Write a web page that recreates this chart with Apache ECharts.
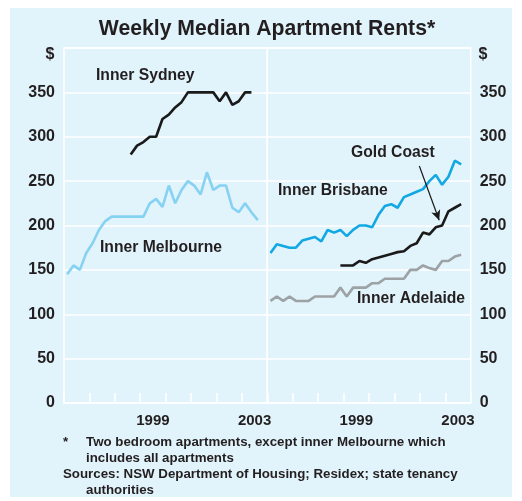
<!DOCTYPE html>
<html><head><meta charset="utf-8">
<script src="https://cdn.jsdelivr.net/npm/echarts@6/dist/echarts.min.js"></script>
<style>html,body{margin:0;padding:0;background:#fff}#c{width:522px;height:501px}</style>
</head><body><div id="c"></div>
<script>
// Quarterly series (value at quarter mid-point)
const yearLabels = [1999, 2003];
const sydneyStart = '1998Q3';
const sydney = [280,290, 294,300,300,320, 325,333,339,350, 350,350,350,350, 340,350,336,340, 350,350];
const melbourneStart = '1996Q1';
const melbourne = [145,155,150,169, 180,195,205,210, 210,210,210,210, 210,225,230,221, 245,225,240,250, 245,235,260,240, 245,245,220,215, 225,215,206];
const brisbaneStart = '1996Q1';
const brisbane = [169,179,177,175, 175,183,185,187, 182,195,192,195, 188,195,200,200, 198,212,222,224, 220,232,235,238, 241,250,257,246, 255,273,269];
const goldCoastStart = '1998Q4';
const goldCoast = [155, 155,155,160,158, 162,164,166,168, 170,171,177,180, 192,190,198,200, 216,220,224];
const adelaideStart = '1996Q1';
const adelaide = [115,120,115,120, 115,115,115,120, 120,120,120,130, 120,130,130,130, 135,135,140,140, 140,140,150,150, 155,152,150,160, 160,165,167];
const arrowFrom = [2001.98, 267];
const arrowTo = [2002.76, 206];

function toPairs(start, vals) {
  const y0 = +start.slice(0, 4), q0 = +start.slice(5) - 1;
  return vals.map((v, i) => {
    const k = q0 + i;
    return [y0 + Math.floor(k / 4) + ((k % 4) + 0.5) / 4, v];
  });
}

const FONT = '"Liberation Sans", Arial, Helvetica, sans-serif';
const TXT = '#231f20';
const BG = '#e1f3fb';

function xAxesFor(g) {
  return [
    { gridIndex: g, type: 'value', position: 'bottom', min: 1996, max: 2004, interval: 1,
      axisLine: { show: false },
      axisTick: { show: true, inside: true, length: 10, lineStyle: { color: '#fff', width: 1.5 } },
      axisLabel: { show: false }, splitLine: { show: false } },
    { gridIndex: g, type: 'value', position: 'bottom', offset: 0, min: 1996, max: 2004, interval: 0.5,
      axisLine: { show: false }, axisTick: { show: false }, splitLine: { show: false },
      axisLabel: { margin: 10, fontSize: 15, fontWeight: 'bold', fontFamily: FONT, color: TXT,
        formatter: v => yearLabels.some(y => Math.abs(v - (y + 0.5)) < 1e-6) ? String(Math.floor(v)) : '' } }
  ];
}
function yAxisFor(g, pos) {
  return { gridIndex: g, type: 'value', min: 0, max: 400, interval: 50, position: pos,
    axisLine: { show: false }, axisTick: { show: false },
    axisLabel: { margin: 9, fontSize: 16, fontWeight: 'bold', fontFamily: FONT, color: TXT,
      formatter: v => v === 400 ? '' : String(v) },
    splitLine: { show: true, lineStyle: { color: '#fff', width: 1.5 } } };
}
function line(name, xi, yi, data, color) {
  return { name, type: 'line', xAxisIndex: xi, yAxisIndex: yi, data, showSymbol: false,
    lineStyle: { color, width: 2.6 }, itemStyle: { color }, z: 3 };
}
function txt(text, x, y, size, align) {
  return { type: 'text', x, y, z: 10, style: { text, fill: TXT, font: 'bold ' + size + 'px ' + FONT,
    textAlign: align || 'left', textVerticalAlign: 'middle' } };
}

const chart = echarts.init(document.getElementById('c'), null, { renderer: 'canvas' });
const gold = line('Gold Coast', 2, 1, toPairs(goldCoastStart, goldCoast), '#1a1a1a');
gold.markLine = { silent: true, symbol: ['none', 'arrow'], symbolSize: [7, 10],
  lineStyle: { color: '#1a1a1a', width: 1.2, type: 'solid' }, label: { show: false },
  data: [[{ coord: arrowFrom }, { coord: arrowTo }]] };

chart.setOption({
  animation: false,
  backgroundColor: '#ffffff',
  grid: [
    { left: 64, top: 48, width: 203.3, height: 355, show: true, borderColor: '#fff', borderWidth: 1.5, backgroundColor: 'transparent' },
    { left: 267.3, top: 48, width: 203.4, height: 355, show: true, borderColor: '#fff', borderWidth: 1.5, backgroundColor: 'transparent' }
  ],
  xAxis: [...xAxesFor(0), ...xAxesFor(1)],
  yAxis: [yAxisFor(0, 'left'), yAxisFor(1, 'right')],
  series: [
    line('Inner Sydney', 0, 0, toPairs(sydneyStart, sydney), '#1a1a1a'),
    line('Inner Melbourne', 0, 0, toPairs(melbourneStart, melbourne), '#86d2f2'),
    line('Inner Brisbane', 2, 1, toPairs(brisbaneStart, brisbane), '#12a8e4'),
    gold,
    line('Inner Adelaide', 2, 1, toPairs(adelaideStart, adelaide), '#9da2a5')
  ],
  graphic: [
    { type: 'rect', z: -100, shape: { x: 10, y: 8, width: 502, height: 489 }, style: { fill: BG } },
    txt('Weekly Median Apartment Rents*', 267, 29, 21.2, 'center'),
    txt('$', 50, 55, 16, 'center'),
    txt('$', 483, 55, 16, 'center'),
    txt('Inner Sydney', 96, 76, 15.7),
    txt('Inner Melbourne', 100, 248, 15.7),
    txt('Inner Brisbane', 278, 191, 15.7),
    txt('Gold Coast', 351, 153, 15.7),
    txt('Inner Adelaide', 357, 298.5, 15.7),
    txt('*', 63, 442, 13.3),
    txt('Two bedroom apartments, except inner Melbourne which', 86, 442, 13.3),
    txt('includes all apartments', 86, 458, 13.3),
    txt('Sources: NSW Department of Housing; Residex; state tenancy', 63, 474, 13.3),
    txt('authorities', 86, 490, 13.3)
  ]
});
</script></body></html>
